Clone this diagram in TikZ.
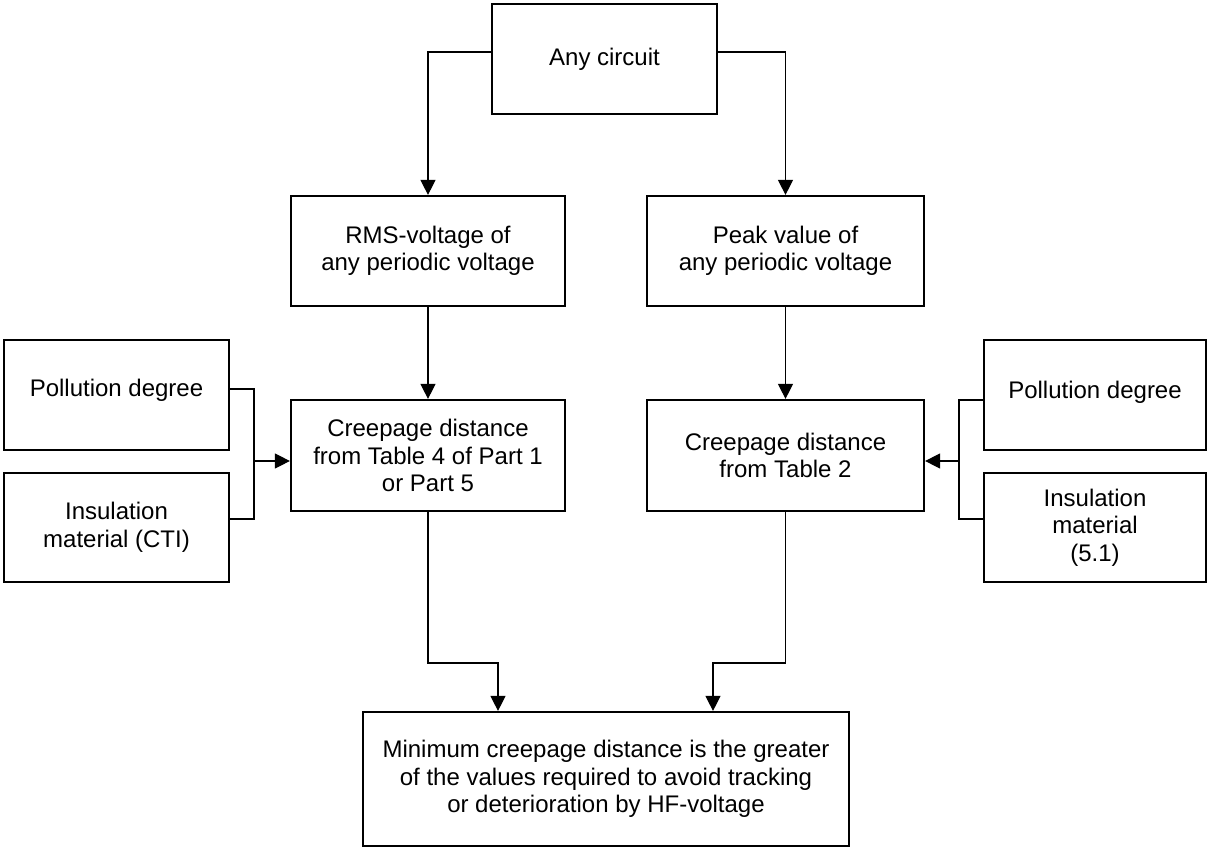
\documentclass[tikz,border=0pt]{standalone}
\usepackage{fontspec}
\setmainfont{Liberation Sans}
\usetikzlibrary{arrows.meta}
\begin{document}
\begin{tikzpicture}[x=1pt,y=-1pt,
  box/.style={draw, line width=2.2pt, align=center, inner sep=0pt,
    font=\fontsize{24}{27.5}\selectfont},
  conn/.style={line width=1.2pt},
  arr/.style={conn, -{Triangle[length=15pt,width=15pt]}}]
\useasboundingbox (0,0) rectangle (1207,848);
\node[box, minimum width=225pt, minimum height=110pt] (any) at (604.5,59) {Any circuit};
\node[box, minimum width=274pt, minimum height=110pt] (rms) at (428,251) {RMS-voltage of\\any periodic voltage};
\node[box, minimum width=277pt, minimum height=110pt] (peak) at (785.5,251) {Peak value of\\any periodic voltage};
\node[box, minimum width=274pt, minimum height=111pt] (crl) at (428,455.5) {Creepage distance\\from Table 4 of Part 1\\or Part 5};
\node[box, minimum width=277pt, minimum height=111pt] (crr) at (785.5,455.5) {Creepage distance\\from Table 2};
\node[box, minimum width=225pt, minimum height=110pt, text depth=15pt] (pl) at (116.5,395) {Pollution degree};
\node[box, minimum width=225pt, minimum height=109pt] (il) at (116.5,527.5) {Insulation\\material (CTI)};
\node[box, minimum width=222pt, minimum height=110pt, text depth=10pt] (pr) at (1095,395) {Pollution degree};
\node[box, minimum width=222pt, minimum height=109pt] (ir) at (1095,527.5) {Insulation\\material\\(5.1)};
\node[box, minimum width=486pt, minimum height=134pt] (min) at (606,779) {Minimum creepage distance is the greater\\of the values required to avoid tracking\\or deterioration by HF-voltage};
\draw[arr] ([yshift=7pt]any.west) -| (rms.north);
\draw[arr] ([yshift=7pt]any.east) -| (peak.north);
\draw[arr] (rms.south) -- (crl.north);
\draw[arr] (peak.south) -- (crr.north);
\coordinate (jl) at (254,461);
\draw[conn] ([yshift=6pt]pl.east) -| (jl);
\draw[conn] ([yshift=8.5pt]il.east) -| (jl);
\draw[arr] (jl) -- (jl -| crl.west);
\coordinate (jr) at (959,461);
\draw[conn] ([yshift=-5pt]pr.west) -| (jr);
\draw[conn] ([yshift=8.5pt]ir.west) -| (jr);
\draw[arr] (jr) -- (jr -| crr.east);
\coordinate (bl) at (498,663);
\draw[arr] (crl.south) |- (bl) -- (bl |- min.north);
\coordinate (br) at (713,663);
\draw[arr] (crr.south) |- (br) -- (br |- min.north);
\end{tikzpicture}
\end{document}
